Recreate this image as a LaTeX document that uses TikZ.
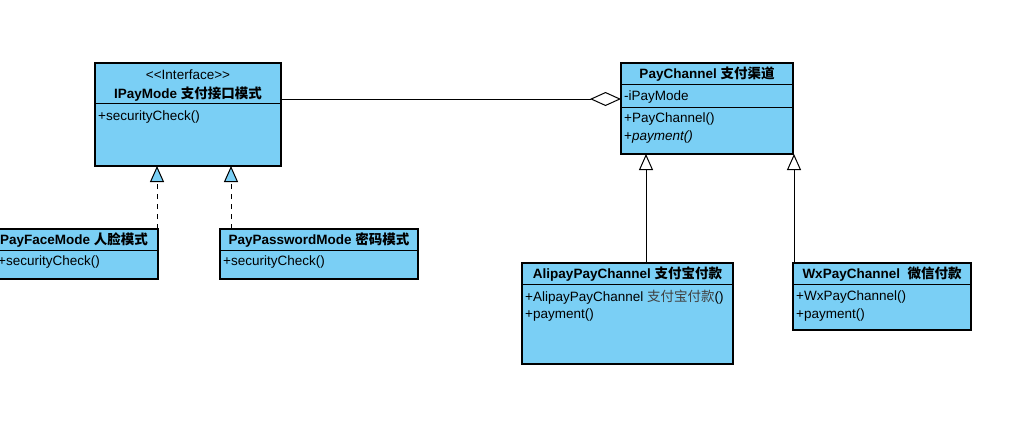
\documentclass[tikz,border=0pt]{standalone}
\usepackage{fontspec}
\setmainfont{Liberation Sans}
\newfontfamily\cjk{Noto Sans CJK SC}
\usetikzlibrary{arrows.meta}
\definecolor{cblue}{RGB}{122,207,245}
\tikzset{
  x=1pt, y=-1pt,
  cls/.style={draw=black, fill=cblue, line width=1.1pt, inner sep=0pt, outer sep=0pt, anchor=north west},
  sepline/.style={draw=black, line width=1pt},
  txt/.style={inner sep=0pt, font=\fontsize{13.5}{16}\selectfont},
  lefttxt/.style={txt, anchor=west},
  realize/.style={line width=1pt, dash pattern=on 5pt off 5pt, -{Triangle[length=16pt, width=14pt, fill=cblue, line width=1pt]}},
  general/.style={line width=1pt, -{Triangle[length=16pt, width=14pt, fill=white, line width=1pt]}},
  aggreg/.style={line width=1pt, -{Diamond[length=31pt, width=14pt, fill=white, line width=1pt]}}
}
\begin{document}
\begin{tikzpicture}
\useasboundingbox (0,0) rectangle (1016,437);
% IPayMode
\node[cls, minimum width=186pt, minimum height=103pt] (ip) at (95,63) {};
\draw[sepline] (ip.west |- 0,103) -- (ip.east |- 0,103);
\node[txt] (ipst) at (188,75) {{<}{<}Interface{>}{>}};
\node[txt] (ipn) at (188,94) {\bfseries IPayMode {\cjk 支付接口模式}};
\node[lefttxt] (ipm) at (98,117) {+securityCheck()};
% PayFaceMode
\node[cls, minimum width=162pt, minimum height=50pt] (pf) at (-4,229) {};
\draw[sepline] (pf.west |- 0,250) -- (pf.east |- 0,250);
\node[txt] (pfn) at (74,240) {\bfseries PayFaceMode {\cjk 人脸模式}};
\node[lefttxt] (pfm) at (-2,262) {+securityCheck()};
% PayPasswordMode
\node[cls, minimum width=198pt, minimum height=50pt] (pp) at (220,229) {};
\draw[sepline] (pp.west |- 0,250) -- (pp.east |- 0,250);
\node[txt] (ppn) at (319,240) {\bfseries PayPasswordMode {\cjk 密码模式}};
\node[lefttxt] (ppm) at (223,262) {+securityCheck()};
% PayChannel
\node[cls, minimum width=172pt, minimum height=91pt] (pc) at (621,63) {};
\draw[sepline] (pc.west |- 0,84) -- (pc.east |- 0,84);
\draw[sepline] (pc.west |- 0,107) -- (pc.east |- 0,107);
\node[txt] (pcn) at (707,74) {\bfseries PayChannel {\cjk 支付渠道}};
\node[lefttxt] (pca) at (624,97) {-iPayMode};
\node[lefttxt] (pcm1) at (624,119) {+PayChannel()};
\node[lefttxt] (pcm2) at (624,137) {+\itshape payment()};
% AlipayPayChannel
\node[cls, minimum width=211pt, minimum height=101pt] (al) at (522,263) {};
\draw[sepline] (al.west |- 0,284) -- (al.east |- 0,284);
\node[txt] (aln) at (627.5,274) {\bfseries AlipayPayChannel {\cjk 支付宝付款}};
\node[lefttxt] (alm1) at (525,297) {+AlipayPayChannel {\cjk\color{black!75} 支付宝付款}()};
\node[lefttxt] (alm2) at (525,315) {+payment()};
% WxPayChannel
\node[cls, minimum width=178pt, minimum height=67pt] (wx) at (793,263) {};
\draw[sepline] (wx.west |- 0,284) -- (wx.east |- 0,284);
\node[txt] (wxn) at (882,274) {\bfseries WxPayChannel\ \ {\cjk 微信付款}};
\node[lefttxt] (wxm1) at (796,297) {+WxPayChannel()};
\node[lefttxt] (wxm2) at (796,315) {+payment()};
% connectors
\coordinate (aggy) at (0,99);
\draw[aggreg] (ip.east |- aggy) -- (pc.west |- aggy);
\draw[realize] ([xshift=-1pt]pf.north east) -- ([xshift=-1pt]pf.north east |- ip.south);
\draw[realize] ([xshift=11pt]pp.north west) -- ([xshift=11pt]pp.north west |- ip.south);
\draw[general] ([xshift=124pt]al.north west) -- ([xshift=124pt]al.north west |- pc.south);
\draw[general] ([xshift=1pt]wx.north west) -- ([xshift=1pt]wx.north west |- pc.south);
\end{tikzpicture}
\end{document}
